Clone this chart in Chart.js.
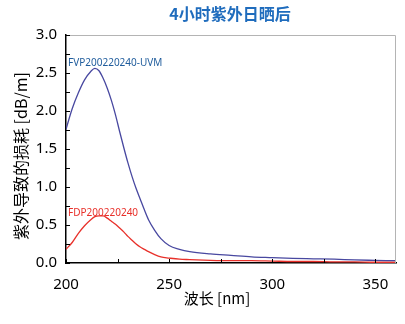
<!DOCTYPE html>
<html>
<head>
<meta charset="utf-8">
<script src="https://cdn.jsdelivr.net/npm/chart.js@4"></script>
<style>
  html, body { margin: 0; padding: 0; background: #fff; }
  #wrap { width: 405px; height: 324px; }
</style>
</head>
<body>
<div id="wrap"><canvas id="uv-chart" width="405" height="324"></canvas></div>
<script>
// wavelength [nm] and loss [dB/m]
const wavelength = [200, 203, 206, 209, 212, 214, 216, 218, 220, 222, 224, 226, 228, 230, 232, 234, 236, 238, 240, 243, 246, 250, 255, 260, 270, 280, 290, 300, 310, 320, 330, 340, 350, 360];
const lossUVM = [1.76, 2.03, 2.24, 2.41, 2.52, 2.56, 2.53, 2.43, 2.30, 2.14, 1.95, 1.73, 1.52, 1.32, 1.14, 0.98, 0.84, 0.70, 0.57, 0.43, 0.32, 0.23, 0.18, 0.15, 0.12, 0.10, 0.08, 0.07, 0.06, 0.055, 0.05, 0.04, 0.035, 0.03];
const lossFDP = [0.18, 0.27, 0.39, 0.49, 0.57, 0.61, 0.62, 0.62, 0.59, 0.55, 0.51, 0.46, 0.41, 0.35, 0.30, 0.25, 0.21, 0.18, 0.15, 0.11, 0.08, 0.065, 0.05, 0.045, 0.035, 0.03, 0.03, 0.025, 0.02, 0.02, 0.015, 0.015, 0.01, 0.01];
const xTicks = [200, 225, 250, 275, 300, 325, 350];
const yTicks = [0, 0.25, 0.5, 0.75, 1, 1.25, 1.5, 1.75, 2, 2.25, 2.5, 2.75, 3];
const seriesNames = ['FVP200220240-UVM', 'FDP200220240'];
const chartTitle = '4小时紫外日晒后';
const xTitle = '波长 [nm]';
const yTitle = '紫外导致的损耗 [dB/m]';

const latin = '"Noto Sans", "Noto Sans CJK SC", sans-serif';
const cjk = '"Noto Sans CJK SC", "Noto Sans", sans-serif';

function toPoints(ys) {
    return wavelength.map((x, i) => ({ x: x, y: ys[i] }));
}

// title, axis titles, frame, inward ticks and curve labels
const decor = {
    id: 'decor',
    afterDraw(chart) {
        const ctx = chart.ctx;
        const a = chart.chartArea;
        const xs = chart.scales.x, ys = chart.scales.y;
        ctx.save();
        // grey top/right frame
        ctx.strokeStyle = '#b4b4b4';
        ctx.lineWidth = 1;
        ctx.beginPath();
        ctx.moveTo(a.left, a.top + 0.5);
        ctx.lineTo(a.right - 0.5, a.top + 0.5);
        ctx.lineTo(a.right - 0.5, a.bottom);
        ctx.stroke();
        // inward ticks
        ctx.strokeStyle = '#000';
        ctx.beginPath();
        ys.ticks.forEach(t => {
            const p = Math.round(ys.getPixelForValue(t.value)) + 0.5;
            ctx.moveTo(a.left, p);
            ctx.lineTo(a.left + 4, p);
        });
        xs.ticks.forEach(t => {
            const p = Math.round(xs.getPixelForValue(t.value)) + 0.5;
            ctx.moveTo(p, a.bottom);
            ctx.lineTo(p, a.bottom - 4);
        });
        ctx.stroke();
        // chart title
        ctx.fillStyle = '#1f6cbd';
        ctx.font = 'bold 16px ' + cjk;
        ctx.textAlign = 'center';
        ctx.textBaseline = 'middle';
        ctx.fillText(chartTitle, 230, 14);
        // axis titles
        ctx.fillStyle = '#000';
        ctx.font = '15px ' + cjk;
        ctx.fillText(xTitle, 217, 298);
        ctx.save();
        ctx.translate(21, 156);
        ctx.rotate(-Math.PI / 2);
        ctx.font = '16px ' + cjk;
        ctx.fillText(yTitle, 0, 0);
        ctx.restore();
        // curve labels
        ctx.font = '10px ' + latin;
        ctx.textAlign = 'left';
        ctx.fillStyle = '#1f5c9c';
        ctx.fillText(seriesNames[0], xs.getPixelForValue(201), ys.getPixelForValue(2.63));
        ctx.fillStyle = '#e8302a';
        ctx.fillText(seriesNames[1], xs.getPixelForValue(201), ys.getPixelForValue(0.66));
        ctx.restore();
    }
};

new Chart(document.getElementById('uv-chart'), {
    type: 'line',
    data: {
        datasets: [
            {
                label: seriesNames[0],
                data: toPoints(lossUVM),
                borderColor: '#4848a0',
                borderWidth: 1.3,
                pointRadius: 0,
                cubicInterpolationMode: 'monotone'
            },
            {
                label: seriesNames[1],
                data: toPoints(lossFDP),
                borderColor: '#e8302a',
                borderWidth: 1.3,
                pointRadius: 0,
                cubicInterpolationMode: 'monotone'
            }
        ]
    },
    plugins: [decor],
    options: {
        responsive: false,
        animation: false,
        layout: { padding: { top: 35, right: 9, left: 0, bottom: 0 } },
        plugins: {
            legend: { display: false },
            tooltip: { enabled: false }
        },
        scales: {
            x: {
                type: 'linear',
                min: 200,
                max: 360,
                grid: { display: false, drawTicks: false },
                border: { display: true, color: '#000', width: 1.5 },
                ticks: {
                    autoSkip: false,
                    maxRotation: 0,
                    padding: 13,
                    color: '#000',
                    font: { family: latin, size: 15 },
                    callback: v => (v % 50 === 0 ? String(v) : '')
                },
                afterBuildTicks: s => { s.ticks = xTicks.map(v => ({ value: v })); },
                afterFit: s => { s.height = 61; }
            },
            y: {
                min: 0,
                max: 3,
                grid: { display: false, drawTicks: false },
                border: { display: true, color: '#000', width: 1.5 },
                ticks: {
                    autoSkip: false,
                    padding: 9,
                    color: '#000',
                    font: { family: latin, size: 15 },
                    callback: v => (Math.abs(v * 2 - Math.round(v * 2)) < 1e-9 ? v.toFixed(1) : '')
                },
                afterBuildTicks: s => { s.ticks = yTicks.map(v => ({ value: v })); },
                afterFit: s => { s.width = 66; }
            }
        }
    }
});
</script>
</body>
</html>
